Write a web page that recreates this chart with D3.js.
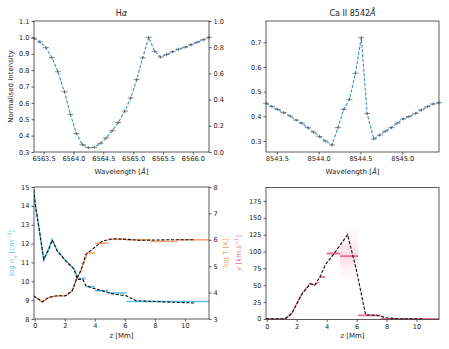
<!DOCTYPE html>
<html><head><meta charset="utf-8">
<script src="https://cdn.jsdelivr.net/npm/d3@7"></script>
<style>body{margin:0;background:#fff} svg{display:block} text{font-family:"DejaVu Sans",sans-serif;fill:#222}</style>
</head><body><svg id="c" width="449" height="349"></svg>
<script>
// ---------- data ----------
const haWave = [6563.34,6563.44,6563.54,6563.64,6563.74,6563.85,6563.95,6564.05,6564.15,6564.25,6564.35,6564.45,6564.55,6564.65,6564.75,6564.86,6564.96,6565.06,6565.16,6565.26,6565.36,6565.46,6565.56,6565.66,6565.76,6565.87,6565.97,6566.07,6566.17,6566.27];
const haInt = [0.995,0.972,0.937,0.876,0.79,0.668,0.53,0.413,0.345,0.326,0.329,0.353,0.386,0.43,0.48,0.55,0.63,0.742,0.875,1.0,0.915,0.88,0.895,0.912,0.928,0.94,0.955,0.97,0.985,1.0];
const caWave = [8543.37,8543.44,8543.51,8543.58,8543.66,8543.73,8543.80,8543.87,8543.94,8544.01,8544.08,8544.16,8544.23,8544.30,8544.37,8544.44,8544.51,8544.58,8544.66,8544.73,8544.80,8544.87,8544.94,8545.01,8545.08,8545.16,8545.23,8545.30,8545.37,8545.44];
const caInt = [0.453,0.44,0.428,0.415,0.401,0.385,0.372,0.354,0.336,0.318,0.3,0.284,0.354,0.428,0.469,0.574,0.718,0.411,0.308,0.324,0.34,0.354,0.372,0.389,0.399,0.412,0.426,0.439,0.45,0.455];

const haTicksX = [6563.5,6564.0,6564.5,6565.0,6565.5,6566.0];
const haTicksY = [0.3,0.4,0.5,0.6,0.7,0.8,0.9,1.0,1.1];
const haTicksY2 = [0.0,0.2,0.4,0.6,0.8,1.0];
const caTicksX = [8543.5,8544.0,8544.5,8545.0];
const caTicksY = [0.3,0.4,0.5,0.6,0.7];
const zTicks = [0,2,4,6,8,10];
const neTicks = [8,9,10,11,12,13,14,15];
const tTicks = [3,4,5,6,7,8];
const vTicks = [0,25,50,75,100,125,150,175];

// reference (dashed) atmosphere
const refNeZ = [-0.07,0.05,0.27,0.6,0.94,1.16,1.5,2.06,2.62,2.84,3.2,3.4,4.07,5.2,6.1,6.75,8.8,10.6];
const refNe  = [14.85,13.98,12.9,11.17,11.7,12.19,11.6,11.08,10.64,10.1,10.1,9.76,9.59,9.33,9.23,8.97,8.9,8.85];
const refTZ = [-0.07,0.5,0.94,1.5,2.06,2.5,2.77,3.06,3.4,3.96,4.5,5.2,6.1,7.0,8.8,10.6];
const refT  = [3.88,3.65,3.82,3.88,3.88,4.07,4.5,4.82,5.45,5.7,5.95,6.04,6.02,5.98,6.0,6.0];
const refVZ = [-0.05,1.22,1.67,2.33,2.9,3.2,3.6,3.9,4.5,5.4,5.98,6.6,7.4,8.0,8.8,10.5];
const refV  = [0,0,8,36,52,50,64,80,97,125,73,6,5,1.5,0,0];

// inverted model: smooth lower part + binned upper part
const invNeZ = [-0.07,0.05,0.27,0.6,0.94,1.16,1.5,2.06,2.62,2.9];
const invNe  = [14.85,13.98,12.9,11.1,11.75,12.22,11.62,11.1,10.66,10.15];
const neBins = [[2.9,3.4,10.15],[3.4,4.0,9.72],[4.0,4.9,9.5],[4.9,6.1,9.38],[6.1,11.6,8.93]];
const invTZ = [-0.07,0.5,0.94,1.5,2.06,2.5,2.77,3.06,3.5];
const invT  = [3.88,3.64,3.82,3.87,3.88,4.07,4.5,4.82,5.45];
const tBins = [[3.5,4.0,5.5],[4.0,4.9,5.87],[4.9,6.1,6.02],[6.1,7.7,6.0],[7.7,9.5,5.94],[9.5,11.6,6.0]];
const invVZ = [-0.05,1.22,1.67,2.33,2.9,3.2,3.5];
const invV  = [0,0,8,37,53,50,55];
const vBins = [[3.5,3.9,62],[4.0,4.9,97],[4.9,6.1,93],[6.1,7.6,5],[7.6,11.5,0]];

// ---------- styling ----------
const BLUE = "#3a8dd0", MARK = "#555", NE_C = "#55c3ee", T_C = "#f6a271", V_C = "#ee6c9c";
const FS = 6.6;
const svg = d3.select("#c");
const defs = svg.append("defs");

function frame(x0,x1,y0,y1){
  svg.append("rect").attr("x",x0).attr("y",y0).attr("width",x1-x0).attr("height",y1-y0)
    .attr("fill","none").attr("stroke","#333").attr("stroke-width",0.8);
}
function axis(g, orient, scale, ticks, fmt, pos){
  const gen = (orient==="bottom"?d3.axisBottom:orient==="left"?d3.axisLeft:d3.axisRight)(scale)
    .tickValues(ticks).tickFormat(fmt).tickSizeInner(2.5).tickSizeOuter(0).tickPadding(2);
  const a = svg.append("g").attr("transform", orient==="bottom"?`translate(0,${pos})`:`translate(${pos},0)`).call(gen);
  a.select(".domain").remove();
  a.selectAll(".tick line").attr("stroke","#333").attr("stroke-width",0.8);
  a.selectAll(".tick text").attr("font-size",FS).attr("font-family","DejaVu Sans").attr("fill","#222");
  return a;
}
function vlabel(x,y,parts,color){
  const t = svg.append("text").attr("transform",`translate(${x},${y}) rotate(-90)`)
    .attr("text-anchor","middle").attr("font-size",7).style("fill",color||"#222");
  parts.forEach(p=>{ const s=t.append("tspan").text(p.t);
    if(p.sub) s.attr("baseline-shift","sub").attr("font-size",5);
    if(p.sup) s.attr("baseline-shift","super").attr("font-size",5);
    if(p.it) s.attr("font-style","italic");});
  return t;
}
function hlabel(x,y,parts,size){
  const t = svg.append("text").attr("x",x).attr("y",y).attr("text-anchor","middle").attr("font-size",size||7);
  parts.forEach(p=>{ const s=t.append("tspan").text(p.t); if(p.it) s.attr("font-style","italic");});
}

// ---------- panel 1: H-alpha ----------
{
  const x = d3.scaleLinear().domain([6563.34,6566.27]).range([34,209]);
  const y = d3.scaleLinear().domain([0.3,1.1]).range([152,21]);
  const y2 = d3.scaleLinear().domain([0,1]).range([152,21]);
  const line = d3.line().x((d,i)=>x(haWave[i])).y(d=>y(d));
  svg.append("path").attr("d",line(haInt)).attr("fill","none").attr("stroke",BLUE)
    .attr("stroke-width",1.1).attr("stroke-dasharray","3.2,1.6");
  haInt.forEach((v,i)=>{ const cx=x(haWave[i]), cy=y(v);
    svg.append("line").attr("x1",cx-3).attr("x2",cx+3).attr("y1",cy).attr("y2",cy).attr("stroke",MARK).attr("stroke-width",0.7);
    svg.append("line").attr("x1",cx).attr("x2",cx).attr("y1",cy-1.6).attr("y2",cy+1.6).attr("stroke",MARK).attr("stroke-width",0.7);
  });
  frame(34,209,21,152);
  axis(null,"bottom",x,haTicksX,d3.format(".1f"),152);
  axis(null,"left",y,haTicksY,d3.format(".1f"),34);
  axis(null,"right",y2,haTicksY2,d3.format(".1f"),209);
  hlabel(121.5,16,[{t:"H"},{t:"α",it:true}],8);
  hlabel(121.5,174,[{t:"Wavelength ["},{t:"Å",it:true},{t:"]"}]);
  vlabel(12.5,86.5,[{t:"Normalised Intensity"}]);
}

// ---------- panel 2: Ca II ----------
{
  const x = d3.scaleLinear().domain([8543.37,8545.44]).range([266,439]);
  const y = d3.scaleLinear().domain([0.2555,0.786]).range([152,21]);
  const line = d3.line().x((d,i)=>x(caWave[i])).y(d=>y(d));
  svg.append("path").attr("d",line(caInt)).attr("fill","none").attr("stroke",BLUE)
    .attr("stroke-width",1.1).attr("stroke-dasharray","3.2,1.6");
  caInt.forEach((v,i)=>{ const cx=x(caWave[i]), cy=y(v);
    svg.append("line").attr("x1",cx-3).attr("x2",cx+3).attr("y1",cy).attr("y2",cy).attr("stroke",MARK).attr("stroke-width",0.7);
    svg.append("line").attr("x1",cx).attr("x2",cx).attr("y1",cy-1.6).attr("y2",cy+1.6).attr("stroke",MARK).attr("stroke-width",0.7);
  });
  frame(266,439,21,152);
  axis(null,"bottom",x,caTicksX,d3.format(".1f"),152);
  axis(null,"left",y,caTicksY,d3.format(".1f"),266);
  hlabel(352.5,16,[{t:"Ca II 8542"},{t:"Å",it:true}],8);
  hlabel(352.5,174,[{t:"Wavelength ["},{t:"Å",it:true},{t:"]"}]);
}

// ---------- panel 3: n_e and T ----------
{
  const x = d3.scaleLinear().domain([-0.05,11.6]).range([34,209]);
  const yN = d3.scaleLinear().domain([8,15]).range([319,187]);
  const yT = d3.scaleLinear().domain([3,8]).range([319,187]);
  const cp = defs.append("clipPath").attr("id","cp3");
  cp.append("rect").attr("x",34).attr("y",187).attr("width",175).attr("height",132);
  const g = svg.append("g").attr("clip-path","url(#cp3)");
  const lnN = d3.line().x((d,i)=>x(invNeZ[i])).y(d=>yN(d));
  g.append("path").attr("d",lnN(invNe)).attr("fill","none").attr("stroke",NE_C).attr("stroke-width",1.5);
  neBins.forEach(b=>g.append("line").attr("x1",x(b[0])).attr("x2",x(b[1])).attr("y1",yN(b[2])).attr("y2",yN(b[2])).attr("stroke",NE_C).attr("stroke-width",1.6));
  const lnT = d3.line().x((d,i)=>x(invTZ[i])).y(d=>yT(d));
  g.append("path").attr("d",lnT(invT)).attr("fill","none").attr("stroke",T_C).attr("stroke-width",1.5);
  tBins.forEach(b=>g.append("line").attr("x1",x(b[0])).attr("x2",x(b[1])).attr("y1",yT(b[2])).attr("y2",yT(b[2])).attr("stroke",T_C).attr("stroke-width",1.6));
  const rN = d3.line().x((d,i)=>x(refNeZ[i])).y(d=>yN(d));
  g.append("path").attr("d",rN(refNe)).attr("fill","none").attr("stroke","#111").attr("stroke-width",1.1).attr("stroke-dasharray","3.2,1.6");
  const rT = d3.line().x((d,i)=>x(refTZ[i])).y(d=>yT(d));
  g.append("path").attr("d",rT(refT)).attr("fill","none").attr("stroke","#111").attr("stroke-width",1.1).attr("stroke-dasharray","3.2,1.6");
  frame(34,209,187,319);
  axis(null,"bottom",x,zTicks,d3.format("d"),319);
  axis(null,"left",yN,neTicks,d3.format("d"),34);
  axis(null,"right",yT,tTicks,d3.format("d"),209);
  hlabel(121.5,338,[{t:"z [Mm]"}]);
  vlabel(13.5,253,[{t:"log n"},{t:"e",sub:true},{t:" [cm"},{t:"−3",sup:true},{t:"]"}],NE_C);
  vlabel(227.5,253,[{t:"log T [K]"}],T_C);
}

// ---------- panel 4: velocity ----------
{
  const x = d3.scaleLinear().domain([-0.05,11.5]).range([266,439]);
  const y = d3.scaleLinear().domain([-1,195]).range([319.5,187.5]);
  const cp = defs.append("clipPath").attr("id","cp4");
  cp.append("rect").attr("x",266).attr("y",187).attr("width",173).attr("height",132.5);
  const g = svg.append("g").attr("clip-path","url(#cp4)");
  const gr = defs.append("linearGradient").attr("id","pg").attr("x1",0).attr("x2",0).attr("y1",0).attr("y2",1);
  [[0,0],[0.3,0.08],[0.55,0.28],[0.75,0.1],[1,0]].forEach(s=>gr.append("stop").attr("offset",s[0]).attr("stop-color",V_C).attr("stop-opacity",s[1]));
  g.append("rect").attr("x",x(4.9)).attr("width",x(6.1)-x(4.9)).attr("y",y(140)).attr("height",y(55)-y(140)).attr("fill","url(#pg)");
  g.append("rect").attr("x",x(4.0)).attr("width",x(4.9)-x(4.0)).attr("y",y(110)).attr("height",y(84)-y(110)).attr("fill","url(#pg)").attr("opacity",0.4);
  const lnV = d3.line().x((d,i)=>x(invVZ[i])).y(d=>y(d));
  g.append("path").attr("d",lnV(invV)).attr("fill","none").attr("stroke",V_C).attr("stroke-width",1.5).attr("opacity",0.8);
  vBins.forEach(b=>g.append("line").attr("x1",x(b[0])).attr("x2",x(b[1])).attr("y1",y(b[2])).attr("y2",y(b[2])).attr("stroke",V_C).attr("stroke-width",1.8));
  const rV = d3.line().x((d,i)=>x(refVZ[i])).y(d=>y(d));
  g.append("path").attr("d",rV(refV)).attr("fill","none").attr("stroke","#111").attr("stroke-width",1.1).attr("stroke-dasharray","3.2,1.6");
  frame(266,439,187.5,319.5);
  axis(null,"bottom",x,zTicks,d3.format("d"),319.5);
  axis(null,"left",y,vTicks,d3.format("d"),266);
  hlabel(352.5,338,[{t:"z [Mm]"}]);
  vlabel(241,253,[{t:"v [km s"},{t:"−1",sup:true},{t:"]"}],V_C);
}
</script></body></html>
